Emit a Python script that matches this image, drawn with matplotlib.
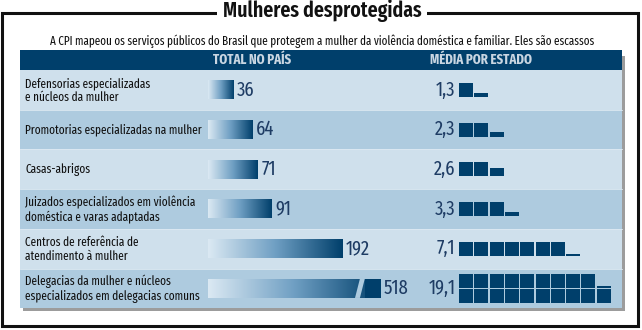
import numpy as np
import matplotlib.pyplot as plt
from matplotlib.colors import LinearSegmentedColormap
from matplotlib.patches import Rectangle, Polygon

# data
labels = ["Defensorias especializadas\ne núcleos da mulher",
          "Promotorias especializadas na mulher",
          "Casas-abrigos",
          "Juizados especializados em violência\ndoméstica e varas adaptadas",
          "Centros de referência de\natendimento à mulher",
          "Delegacias da mulher e núcleos\nespecializados em delegacias comuns"]
total = [36, 64, 71, 91, 192, 518]
total_txt = ["36", "64", "71", "91", "192", "518"]
media = [1.3, 2.3, 2.6, 3.3, 7.1, 19.1]
media_txt = ["1,3", "2,3", "2,6", "3,3", "7,1", "19,1"]

title = "Mulheres desprotegidas"
subtitle = ("A CPI mapeou os serviços públicos do Brasil que protegem a mulher "
            "da violência doméstica e familiar. Eles são escassos")
head_total = "TOTAL NO PAÍS"
head_media = "MÉDIA POR ESTADO"

plt.rcParams['font.family'] = ['Fira Sans Extra Condensed', 'PT Sans Narrow', 'DejaVu Sans']

navy = '#003f6b'
row_cols = ['#cfe0ec', '#aecbdf']
num_col = '#1e3c64'
cmap = LinearSegmentedColormap.from_list('bar', ['#dbe9f3', '#6f9fc3', navy])

W, H = 642, 330
fig = plt.figure(figsize=(W / 100, H / 100), dpi=100)
ax = fig.add_axes([0, 0, 1, 1])
ax.set_xlim(0, W)
ax.set_ylim(H, 0)
ax.axis('off')

# frame + title
ax.add_patch(Rectangle((2, 13), 636, 313, fill=False, lw=2.2, ec='#111111'))
ax.text(322, 11, title, ha='center', va='center', fontsize=15.5, fontweight='semibold',
        color='#111111', bbox=dict(fc='white', ec='none', pad=4))
ax.text(322, 41, subtitle, ha='center', va='center', fontsize=8.7, color='#111111')

# panel
x0, x1 = 20, 622
top, row_h = 70, 39.7
n = len(labels)
ax.add_patch(Rectangle((x0 + 3, 56), x1 - x0, top + n * row_h - 56 + 3, fc='#9c9c9c', ec='none'))
ax.add_patch(Rectangle((x0, 50), x1 - x0, top - 50, fc=navy, ec='none'))
ax.text(252, 60, head_total, ha='center', va='center', fontsize=10, fontweight='bold', color='#c9d6e2')
ax.text(481, 60, head_media, ha='center', va='center', fontsize=10, fontweight='bold', color='#c9d6e2')
for i, lab in enumerate(labels):
    y = top + i * row_h
    ax.add_patch(Rectangle((x0, y), x1 - x0, row_h, fc=row_cols[i % 2], ec='none'))
    if i > 0:
        ax.plot([x0, x1], [y, y], color='#dde9f2', lw=0.6)
    ax.text(25, y + row_h / 2 + 0.5, lab, ha='left', va='center', fontsize=8.8,
            color='#111111', linespacing=1.15)

# bars for total (0.7 px per unit)
bx = 208
axb = fig.add_axes([bx / W, 0, 1 - bx / W, 1])
axb.axis('off')
cap = 246
grad = np.linspace(0, 1, 256).reshape(1, -1)
for i, v in enumerate(total):
    yc = top + (i + 0.5) * row_h
    shown = min(v, cap)
    axb.imshow(grad, extent=[0, shown, yc + 9.5, yc - 9.5], aspect='auto', cmap=cmap,
               interpolation='bilinear', zorder=2)
    if v > cap:
        # break mark
        gap = Polygon([[217, yc - 9.6], [224, yc - 9.6], [217, yc + 9.6], [210, yc + 9.6]],
                      closed=True, fc=row_cols[i % 2], ec='none', zorder=3)
        axb.add_patch(gap)
        axb.add_patch(Rectangle((224, yc - 9.5), shown - 224, 19, fc=navy, ec='none', zorder=2))
    axb.annotate(total_txt[i], (shown, yc), xytext=(2.5, 0), textcoords='offset points',
                 ha='left', va='center', fontsize=14.5, fontweight='normal', color=num_col)
axb.set_xlim(0, (W - bx) / 0.7)
axb.set_ylim(H, 0)

# squares for media (one square per unit, fraction as height)
sx = 459
pitch = 15.3
axs = fig.add_axes([sx / W, 0, 1 - sx / W, 1])
axs.axis('off')
for i, v in enumerate(media):
    yc = top + (i + 0.5) * row_h
    full = int(v)
    frac = v - full
    lines = int(np.ceil(v / 10))
    h = 14 if lines == 1 else 13.5
    g = 1.5
    stack = lines * h + (lines - 1) * g
    bottom = yc + stack / 2
    for k in range(full + 1):
        col, line = k % 10, k // 10
        yb = bottom - line * (h + g)
        hh = h if k < full else frac * h
        if hh <= 0:
            continue
        axs.add_patch(Rectangle((col, yb - hh), 14 / pitch, hh, fc=navy, ec='none'))
    axs.annotate(media_txt[i], (0, yc), xytext=(-2.5, 0), textcoords='offset points',
                 ha='right', va='center', fontsize=14.5, fontweight='normal', color=num_col)
axs.set_xlim(0, (W - sx) / pitch)
axs.set_ylim(H, 0)

fig.savefig('out.png', dpi=100)
